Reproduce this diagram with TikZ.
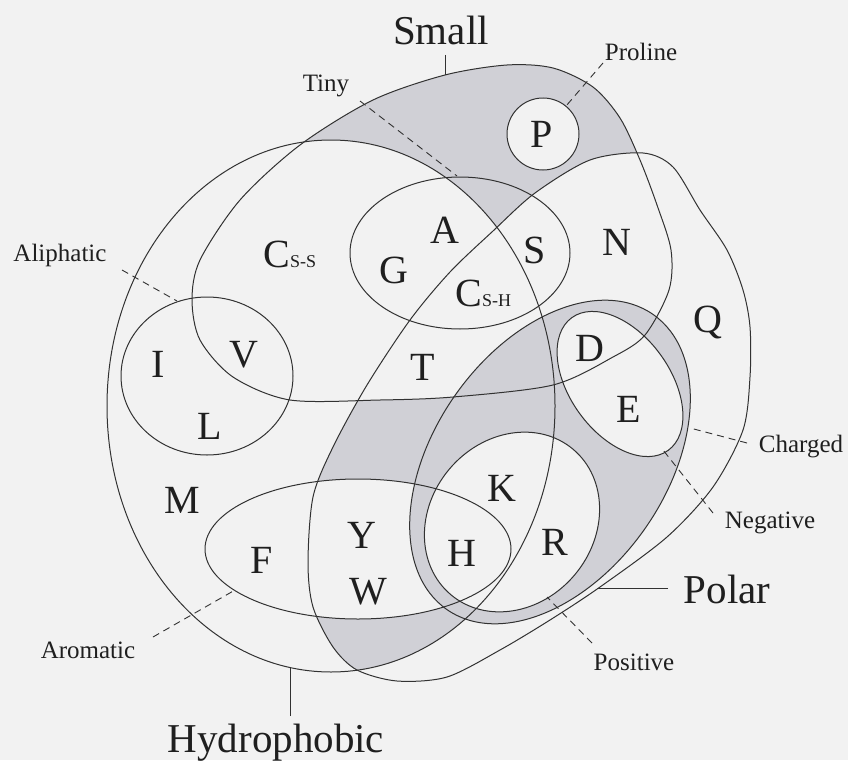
\documentclass[tikz,border=0pt]{standalone}
\usepackage{fontspec}
\setmainfont{Liberation Serif}
\definecolor{paper}{RGB}{242,242,242}
\definecolor{greyfill}{RGB}{208,208,214}
\definecolor{ink}{RGB}{50,50,50}

% 集合轮廓
\newcommand{\hydropath}{(331,406) ellipse [x radius=224pt, y radius=266pt]}
\newcommand{\tinypath}{(460,253) ellipse [x radius=110pt, y radius=76pt]}
\newcommand{\aliphpath}{(207,376) ellipse [x radius=86pt, y radius=79pt]}
\newcommand{\aromapath}{(358,549) ellipse [x radius=153pt, y radius=70pt]}
\newcommand{\chargedpath}{(550,462) ellipse [x radius=180pt, y radius=116pt, rotate=55]}
\newcommand{\pospath}{(512,522) ellipse [x radius=95pt, y radius=82pt, rotate=50]}
\newcommand{\negpath}{(620,384) ellipse [x radius=82pt, y radius=50pt, rotate=-54]}
\newcommand{\propath}{(543,134) circle [radius=36pt]}
\newcommand{\smallpath}{plot [smooth cycle] coordinates {(300,145) (373,100) (445,75)
  (507,65) (553,68) (593,87) (620,118) (640,160) (657,205) (671,250) (669,290) (645,335)
  (613,357) (553,385) (453,397) (380,400) (290,400) (233,377) (200,340) (192,300)
  (200,260) (240,200)}}
\newcommand{\polarpath}{plot [smooth cycle] coordinates {(493,231) (535,193) (590,160)
  (643,153) (673,167) (700,210) (727,250) (743,290) (750,327) (750,377) (743,430)
  (713,487) (667,537) (600,587) (550,620) (500,650) (447,677) (397,681) (357,670)
  (333,647) (313,607) (308,563) (313,497) (333,447) (367,385) (410,320) (450,272)}}
\newcommand{\subcap}[1]{{\fontsize{18}{18}\selectfont #1}}

\begin{document}
\begin{tikzpicture}[x=1pt,y=-1pt,line width=1pt,
  outline/.style={draw=ink},
  leader/.style={draw=ink,line width=0.9pt,dash pattern=on 7pt off 5pt},
  tick/.style={draw=ink,line width=0.9pt},
  amino/.style={inner sep=0pt,text=black!88,font=\fontsize{40}{40}\selectfont},
  tag/.style={inner sep=0pt,anchor=base,text=black!88,font=\fontsize{25}{25}\selectfont},
  bigtag/.style={inner sep=0pt,anchor=base,text=black!88,font=\fontsize{41}{41}\selectfont}]
  \useasboundingbox (0,0) rectangle (848,760);
  \fill[paper] (0,0) rectangle (848,760);

  % 灰色空集区域
  \begin{scope}
    \clip \smallpath;
    \fill[greyfill] \smallpath;
    \fill[paper] \hydropath;
    \fill[paper] \polarpath;
  \end{scope}
  \fill[paper] \propath;
  \begin{scope}
    \clip \polarpath;
    \clip \hydropath;
    \fill[greyfill] \hydropath;
    \fill[paper] \smallpath;
    \fill[paper] \aromapath;
  \end{scope}
  \fill[greyfill] \chargedpath;
  \fill[paper] \pospath;
  \fill[paper] \negpath;

  % 集合边界
  \draw[outline] \hydropath;
  \draw[outline] \smallpath;
  \draw[outline] \polarpath;
  \draw[outline] \tinypath;
  \draw[outline] \aliphpath;
  \draw[outline] \aromapath;
  \draw[outline] \chargedpath;
  \draw[outline] \pospath;
  \draw[outline] \negpath;
  \draw[outline] \propath;

  % 氨基酸
  \node[amino] (P) at (542,134) {P};
  \node[amino] (A) at (445,230) {A};
  \node[amino] (G) at (394,270) {G};
  \node[amino] (S) at (535,250) {S};
  \node[amino] (N) at (617,242) {N};
  \node[amino,anchor=base west] (Css) at (263,267) {C\subcap{S-S}};
  \node[amino,anchor=base west] (Csh) at (455,306) {C\subcap{S-H}};
  \node[amino] (T) at (423,367) {T};
  \node[amino] (D) at (590,348) {D};
  \node[amino] (Q) at (708,322) {Q};
  \node[amino] (E) at (629,409) {E};
  \node[amino] (I) at (158,364) {I};
  \node[amino] (V) at (244,355) {V};
  \node[amino] (L) at (210,426) {L};
  \node[amino] (M) at (182,500) {M};
  \node[amino] (F) at (262,560) {F};
  \node[amino] (Y) at (362,535) {Y};
  \node[amino] (W) at (368,592) {W};
  \node[amino] (K) at (502,488) {K};
  \node[amino] (H) at (462,553) {H};
  \node[amino] (R) at (555,542) {R};

  % 集合名称
  \node[bigtag] (smalllbl) at (441,45) {Small};
  \node[tag] (prolbl) at (641,60) {Proline};
  \node[tag] (tinylbl) at (326,91) {Tiny};
  \node[tag] (aliphlbl) at (60,261) {Aliphatic};
  \node[tag] (chargedlbl) at (801,452) {Charged};
  \node[tag] (neglbl) at (770,528) {Negative};
  \node[bigtag] (polarlbl) at (727,603) {Polar};
  \node[tag] (poslbl) at (634,670) {Positive};
  \node[tag] (aromalbl) at (88,658) {Aromatic};
  \node[bigtag] (hydrolbl) at (276,752) {Hydrophobic};

  % 引线端点
  \coordinate (smallA) at (445,55);   \coordinate (smallB) at (445,75);
  \coordinate (proA) at (603,63);     \coordinate (proB) at (566,106);
  \coordinate (tinyA) at (360,101);   \coordinate (tinyB) at (457,176);
  \coordinate (aliphA) at (122,270);  \coordinate (aliphB) at (177,301);
  \coordinate (chargedA) at (747,443);\coordinate (chargedB) at (690,428);
  \coordinate (negA) at (713,513);    \coordinate (negB) at (663,450);
  \coordinate (polarA) at (668,588);  \coordinate (polarB) at (597,588);
  \coordinate (posA) at (592,643);    \coordinate (posB) at (547,597);
  \coordinate (aromaA) at (153,637);  \coordinate (aromaB) at (235,590);
  \coordinate (hydroA) at (290,716);  \coordinate (hydroB) at (290,668);

  % 引线
  \draw[tick] (smallA) -- (smallB);
  \draw[tick] (polarA) -- (polarB);
  \draw[tick] (hydroA) -- (hydroB);
  \draw[leader] (proA) -- (proB);
  \draw[leader] (tinyA) -- (tinyB);
  \draw[leader] (aliphA) -- (aliphB);
  \draw[leader] (chargedA) -- (chargedB);
  \draw[leader] (negA) -- (negB);
  \draw[leader] (posA) -- (posB);
  \draw[leader] (aromaA) -- (aromaB);
\end{tikzpicture}
\end{document}
